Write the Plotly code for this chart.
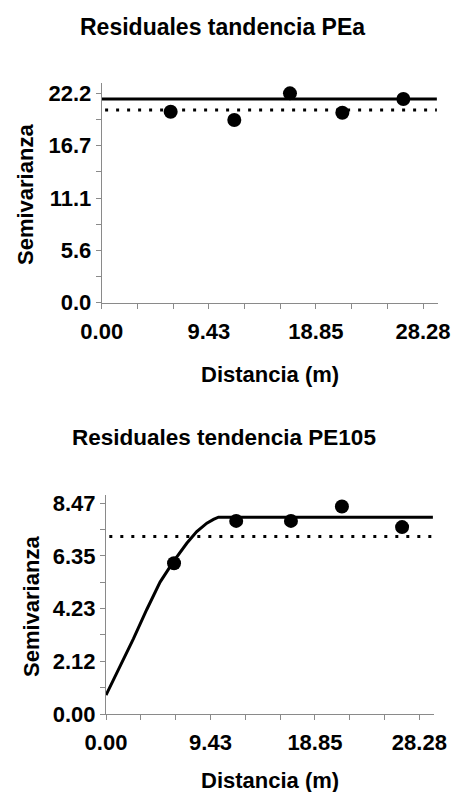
import plotly.graph_objects as go

# ---- data: top panel (PEa) ----
pea_dist = [6.07, 11.67, 16.57, 21.18, 26.55]
pea_semi = [20.25, 19.37, 22.2, 20.15, 21.6]
pea_model_x = [0.0, 29.5]
pea_model_y = [21.6, 21.6]
pea_var_x = [0.3, 29.5]
pea_var_y = [20.43, 20.43]
pea_yticks = [0.0, 5.55, 11.1, 16.65, 22.2]
pea_yticklabels = ["0.0", "5.6", "11.1", "16.7", "22.2"]

# ---- data: bottom panel (PE105) ----
pe105_dist = [6.14, 11.75, 16.69, 21.29, 26.72]
pe105_semi = [6.06, 7.76, 7.76, 8.34, 7.51]
pe105_model_x = [0.0, 1.26, 2.47, 3.68, 4.88, 6.08, 7.29, 8.19, 9.10, 9.70, 10.15, 11.0, 29.5]
pe105_model_y = [0.76, 1.88, 3.02, 4.20, 5.30, 6.12, 6.86, 7.33, 7.67, 7.82, 7.91, 7.91, 7.91]
pe105_var_x = [0.3, 29.5]
pe105_var_y = [7.13, 7.13]
pe105_yticks = [0.0, 2.1175, 4.235, 6.3525, 8.47]
pe105_yticklabels = ["0.00", "2.12", "4.23", "6.35", "8.47"]

x_ticks = [0.0, 9.4267, 18.8533, 28.28]
x_ticklabels = ["0.00", "9.43", "18.85", "28.28"]

titles = ["Residuales tandencia PEa", "Residuales tendencia PE105"]
x_title = "Distancia (m)"
y_title = "Semivarianza"

W, H = 451, 792
FONT = "Liberation Sans, Arial, sans-serif"
AXC = "#8a8a8a"

fig = go.Figure()

def add_panel(xa, ya, dist, semi, mx, my, vx, vy):
    fig.add_trace(go.Scatter(x=mx, y=my, mode="lines", xaxis=xa, yaxis=ya,
                             line=dict(color="black", width=3, shape="linear"),
                             hoverinfo="skip", showlegend=False))
    fig.add_trace(go.Scatter(x=vx, y=vy, mode="lines", xaxis=xa, yaxis=ya,
                             line=dict(color="black", width=3, dash="3px,8px"),
                             hoverinfo="skip", showlegend=False))
    fig.add_trace(go.Scatter(x=dist, y=semi, mode="markers", xaxis=xa, yaxis=ya,
                             marker=dict(color="black", size=14),
                             showlegend=False))

add_panel("x", "y", pea_dist, pea_semi, pea_model_x, pea_model_y, pea_var_x, pea_var_y)
add_panel("x2", "y2", pe105_dist, pe105_semi, pe105_model_x, pe105_model_y, pe105_var_x, pe105_var_y)

tickfont = dict(family=FONT, size=22, color="black", weight="bold")

def xaxis(domain, anchor):
    return dict(domain=domain, anchor=anchor, range=[0, 29.6], automargin=False,
                tickmode="array", tickvals=x_ticks, ticktext=x_ticklabels,
                showline=True, linecolor=AXC, linewidth=1, showgrid=False, zeroline=False,
                ticks="outside", ticklen=5, tickcolor=AXC, tickwidth=1,
                ticklabelstandoff=4,
                minor=dict(dtick=28.28 / 9, tick0=0, ticks="outside", ticklen=5,
                           tickcolor=AXC, tickwidth=1, showgrid=False),
                tickfont=tickfont, fixedrange=True)

def yaxis(domain, anchor, rng, tv, tt, minor_dt):
    return dict(domain=domain, anchor=anchor, range=rng, automargin=False,
                tickmode="array", tickvals=tv, ticktext=tt,
                showline=True, linecolor=AXC, linewidth=1, showgrid=False, zeroline=False,
                ticks="outside", ticklen=5, tickcolor=AXC, tickwidth=1,
                minor=dict(dtick=minor_dt, tick0=0, ticks="outside", ticklen=5,
                           tickcolor=AXC, tickwidth=1, showgrid=False),
                tickfont=tickfont, fixedrange=True)

fig.update_layout(
    width=W, height=H,
    margin=dict(l=0, r=0, t=0, b=0, autoexpand=False),
    paper_bgcolor="white", plot_bgcolor="white",
    xaxis=xaxis([101.7 / W, 438 / W], "y"),
    yaxis=yaxis([1 - 302.7 / H, 1 - 83 / H], "x", [0, 23.3], pea_yticks, pea_yticklabels, 2.775),
    xaxis2=xaxis([106 / W, 434 / W], "y2"),
    yaxis2=yaxis([1 - 714 / H, 1 - 495 / H], "x2", [0, 8.8], pe105_yticks, pe105_yticklabels, 1.05875),
)

def ann(text, xpx, ypx, size, angle=0):
    fig.add_annotation(text=text, x=xpx / W, y=1 - ypx / H, xref="paper", yref="paper",
                       showarrow=False, xanchor="center", yanchor="middle", textangle=angle,
                       font=dict(family=FONT, size=size, color="black", weight="bold"))

ann(titles[0], 222, 27, 23)
ann(titles[1], 224, 437, 22.5)
ann(x_title, 270, 374, 22)
ann(x_title, 270, 780, 22)
ann(y_title, 25, 195, 22, -90)
ann(y_title, 31, 607, 22, -90)

fig.write_html("out.html", config={"displayModeBar": False},
               post_script="document.body.style.margin='0';document.body.style.overflow='hidden';")
